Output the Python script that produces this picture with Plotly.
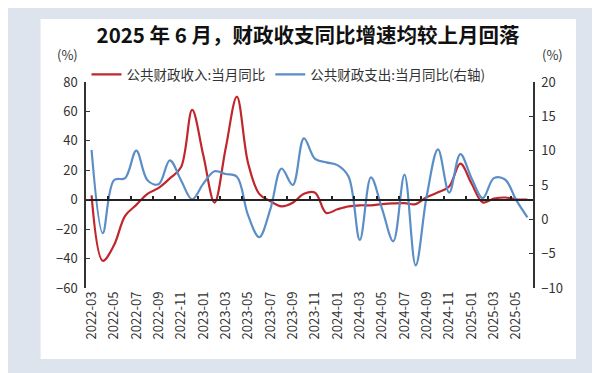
import plotly.graph_objects as go

months = ["2022-03","2022-04","2022-05","2022-06","2022-07","2022-08","2022-09","2022-10","2022-11","2022-12",
          "2023-01","2023-02","2023-03","2023-04","2023-05","2023-06","2023-07","2023-08","2023-09","2023-10",
          "2023-11","2023-12","2024-01","2024-02","2024-03","2024-04","2024-05","2024-06","2024-07","2024-08",
          "2024-09","2024-10","2024-11","2024-12","2025-01","2025-02","2025-03","2025-04","2025-05","2025-06"]

revenue_yoy = [3, -41.5, -31, -11, -3.5, 4, 8, 14.5, 22, 61,
               30, -2, 35, 70, 25, 4, -1, -4.5, -2, 4,
               4.8, -9, -6.5, -4.5, -3.8, -3.8, -3, -2.5, -2.3, -3,
               1.8, 5, 9, 24.5, 11, -1.8, 0.7, 1.5, 0.3, 0]

expenditure_yoy = [10.1, -2.0, 5.7, 6.0, 10.0, 5.7, 5.1, 8.6, 5.7, 2.9,
                   5.2, 7.0, 6.6, 6.2, 0.6, -2.6, 1.5, 7.4, 5.0, 11.8,
                   8.8, 8.3, 7.9, 6.2, -3.0, 6.1, 1.5, -3.2, 6.5, -6.7,
                   3.5, 10.2, 3.9, 9.5, 6.0, 3.1, 6.0, 5.8, 2.8, 0.3]

left_ticks = [-60, -40, -20, 0, 20, 40, 60, 80]
right_ticks = [-10, -5, 0, 5, 10, 15, 20]

title_text = "2025 年 6 月，财政收支同比增速均较上月回落"
name_rev = "公共财政收入:当月同比"
name_exp = "公共财政支出:当月同比(右轴)"

FONT = "Noto Sans CJK SC"
RED = "#c0272d"
BLUE = "#5b8ec6"
BG = "#dde4ee"

idx = list(range(len(months)))
tick_idx = idx[::2]
tick_txt = months[::2]

fig = go.Figure()
fig.add_trace(go.Scatter(x=idx, y=revenue_yoy, name=name_rev, mode="lines",
                         line=dict(color=RED, width=2.2, shape="spline", smoothing=1.0),
                         yaxis="y"))
fig.add_trace(go.Scatter(x=idx, y=expenditure_yoy, name=name_exp, mode="lines",
                         line=dict(color=BLUE, width=2.2, shape="spline", smoothing=1.0),
                         yaxis="y2"))
# helper empty trace to carry the zero-line axis with boundary ticks
fig.add_trace(go.Scatter(x=[None], y=[None], xaxis="x2", yaxis="y", showlegend=False, hoverinfo="skip"))

L, R, T, B = 77.5, 75, 74, 93
pw = 600 - L - R
ph = 373 - T - B

def px_x(p):
    return (p - L) / pw

def px_y(p):
    return (373 - B - p) / ph

fig.update_layout(
    width=600, height=373,
    margin=dict(l=L, r=R, t=T, b=B, autoexpand=False),
    paper_bgcolor=BG, plot_bgcolor="white",
    font=dict(family=FONT, color="#333333", size=13),
    title=dict(text="<b>" + title_text + "</b>", x=0.5, xanchor="center", y=1 - 28 / 373, yanchor="middle",
               font=dict(family=FONT, size=20.5, color="#111111")),
    showlegend=True,
    legend=dict(orientation="h", x=px_x(78), xanchor="left", y=px_y(51), yanchor="top",
                font=dict(family=FONT, size=13.5, color="#333333"), bgcolor="rgba(0,0,0,0)",
                itemwidth=30, tracegroupgap=0),
    xaxis=dict(range=[-0.5, 39.5], tickmode="array", tickvals=tick_idx, ticktext=tick_txt,
               tickangle=-90, showgrid=False, zeroline=False, showline=False, ticks="",
               tickfont=dict(family=FONT, size=13, color="#333333")),
    xaxis2=dict(range=[-0.5, 39.5], overlaying="x", anchor="free", position=60 / 140, side="bottom",
                tickmode="array", tickvals=[i + 1.5 for i in idx[::2]][:-1], showticklabels=False,
                ticks="inside", ticklen=3, tickwidth=1.5, tickcolor="#222222",
                showline=True, linecolor="#222222", linewidth=1.6, showgrid=False, zeroline=False),
    yaxis=dict(range=[-60, 80], tickmode="array", tickvals=left_ticks, showgrid=False, zeroline=False,
               showline=True, linecolor="#333333", linewidth=1.5, ticks="inside", ticklen=4,
               tickcolor="#333333", ticklabelstandoff=4,
               tickfont=dict(family=FONT, size=13, color="#333333")),
    yaxis2=dict(range=[-10, 20], tickmode="array", tickvals=right_ticks, overlaying="y", side="right",
                showgrid=False, zeroline=False, showline=True, linecolor="#333333", linewidth=1.5,
                ticks="inside", ticklen=4, tickcolor="#333333", ticklabelstandoff=4,
                tickfont=dict(family=FONT, size=13, color="#333333")),
    shapes=[dict(type="rect", xref="paper", yref="paper", x0=px_x(32), x1=px_x(568), y0=px_y(351), y1=px_y(11),
                 fillcolor="white", line=dict(width=0), layer="below")],
    annotations=[
        dict(text="(%)", xref="paper", yref="paper", x=px_x(59), y=px_y(46), showarrow=False,
             xanchor="center", yanchor="middle", font=dict(family=FONT, size=13, color="#333333")),
        dict(text="(%)", xref="paper", yref="paper", x=px_x(545), y=px_y(46), showarrow=False,
             xanchor="center", yanchor="middle", font=dict(family=FONT, size=13, color="#333333")),
    ],
)

fig.write_html("out.html")
